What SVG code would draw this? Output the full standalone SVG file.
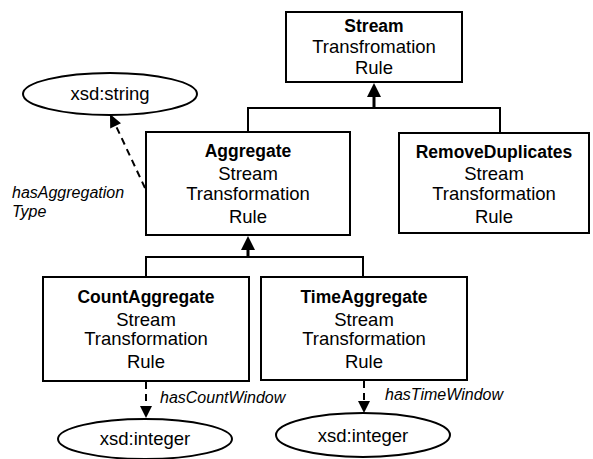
<svg xmlns="http://www.w3.org/2000/svg" width="593" height="459" viewBox="0 0 593 459">
  <style>
    .box { fill: #ffffff; stroke: #000000; stroke-width: 2; }
    .ell { fill: #ffffff; stroke: #000000; stroke-width: 2; }
    .t { font-family: "Liberation Sans", Arial, sans-serif; font-size: 18.5px; fill: #000000; text-anchor: middle; }
    .b { font-weight: bold; font-size: 17.5px; }
    .lbl { font-family: "Liberation Sans", Arial, sans-serif; font-size: 16px; font-style: italic; fill: #000000; }
    .line { fill: none; stroke: #000000; stroke-width: 2; }
    .stem { fill: none; stroke: #000000; stroke-width: 3; }
    .dash { fill: none; stroke: #000000; stroke-width: 2; stroke-dasharray: 7 5; }
    .head { fill: #000000; }
  </style>

  <!-- connectors -->
  <g id="connectors">
    <!-- subclass links to Stream Transformation Rule -->
    <polyline class="line" points="248,132 248,108 500,108 500,133"/>
    <line class="stem" x1="374" y1="108" x2="374" y2="96"/>
    <path class="head" d="M367,97 L374,83 L381,97 Z"/>
    <!-- subclass links to Aggregate -->
    <polyline class="line" points="146,277 146,257 363,257 363,277"/>
    <line class="stem" x1="248" y1="257" x2="248" y2="249"/>
    <path class="head" d="M241,250 L248,236 L255,250 Z"/>
    <!-- datatype properties -->
    <line class="dash" x1="145" y1="188" x2="116" y2="126"/>
    <path class="head" d="M110,114 L121,123.2 L110.2,128.4 Z"/>
    <line class="dash" x1="146" y1="382" x2="146" y2="407"/>
    <path class="head" d="M140,406 L146,418 L152,406 Z"/>
    <line class="dash" x1="364" y1="381" x2="364" y2="402"/>
    <path class="head" d="M358,401 L364,413 L370,401 Z"/>
    <text class="lbl" x="12" y="198">hasAggregation</text>
    <text class="lbl" x="12" y="217">Type</text>
    <text class="lbl" x="160" y="403">hasCountWindow</text>
    <text class="lbl" x="385" y="400">hasTimeWindow</text>
  </g>

  <g id="stream">
    <rect class="box" x="286" y="12" width="176" height="70"/>
    <text class="t b" x="374" y="32">Stream</text>
    <text class="t" x="374" y="53">Transfromation</text>
    <text class="t" x="374" y="74">Rule</text>
  </g>

  <g id="aggregate">
    <rect class="box" x="146" y="132" width="204" height="103"/>
    <text class="t b" x="248" y="157">Aggregate</text>
    <text class="t" x="248" y="180">Stream</text>
    <text class="t" x="248" y="200">Transformation</text>
    <text class="t" x="248" y="223">Rule</text>
  </g>

  <g id="removeDuplicates">
    <rect class="box" x="399" y="133" width="190" height="100"/>
    <text class="t b" x="494" y="158">RemoveDuplicates</text>
    <text class="t" x="494" y="180">Stream</text>
    <text class="t" x="494" y="200">Transformation</text>
    <text class="t" x="494" y="223">Rule</text>
  </g>

  <g id="countAggregate">
    <rect class="box" x="43" y="277" width="206" height="104"/>
    <text class="t b" x="146" y="303">CountAggregate</text>
    <text class="t" x="146" y="326">Stream</text>
    <text class="t" x="146" y="345">Transformation</text>
    <text class="t" x="146" y="368">Rule</text>
  </g>

  <g id="timeAggregate">
    <rect class="box" x="261" y="277" width="206" height="103"/>
    <text class="t b" x="364" y="303">TimeAggregate</text>
    <text class="t" x="364" y="326">Stream</text>
    <text class="t" x="364" y="345">Transformation</text>
    <text class="t" x="364" y="368">Rule</text>
  </g>

  <g id="xsdString">
    <ellipse class="ell" cx="110" cy="94" rx="87" ry="21"/>
    <text class="t" x="110" y="100">xsd:string</text>
  </g>

  <g id="xsdIntegerCount">
    <ellipse class="ell" cx="145" cy="439" rx="87" ry="20"/>
    <text class="t" x="145" y="445">xsd:integer</text>
  </g>

  <g id="xsdIntegerTime">
    <ellipse class="ell" cx="363" cy="435" rx="87" ry="22"/>
    <text class="t" x="363" y="442">xsd:integer</text>
  </g>
</svg>
